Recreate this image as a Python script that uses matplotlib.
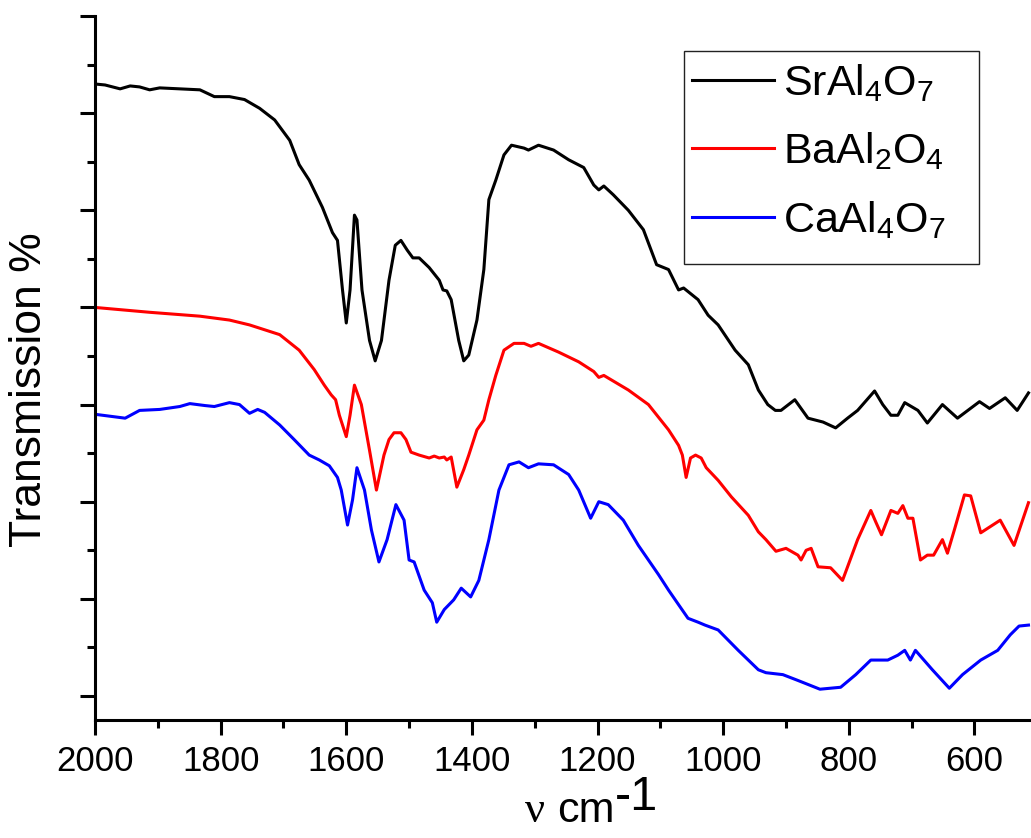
import matplotlib
matplotlib.use("Agg")
import matplotlib.pyplot as plt
from matplotlib.patches import Rectangle
from matplotlib.ticker import MultipleLocator, NullFormatter

plt.rcParams['font.family'] = ['Liberation Sans', 'DejaVu Sans']
plt.rcParams['mathtext.fontset'] = 'custom'
plt.rcParams['mathtext.rm'] = 'Liberation Sans'

# ---- data (wavenumber cm^-1, transmission arbitrary %) ----
sr_wn = [2000, 1984, 1960, 1944, 1929, 1913, 1897, 1865, 1833, 1810, 1786, 1762, 1738, 1714,
         1690, 1675, 1659, 1638, 1622, 1614, 1606, 1600, 1594, 1587, 1583, 1575, 1563, 1554,
         1544, 1532, 1522, 1513, 1503, 1494, 1484, 1468, 1452, 1446, 1440, 1433, 1421, 1413,
         1405, 1392, 1381, 1373, 1362, 1349, 1337, 1317, 1310, 1294, 1270, 1246, 1222, 1206,
         1198, 1190, 1175, 1151, 1127, 1106, 1087, 1071, 1063, 1040, 1024, 1008, 981, 960,
         944, 929, 917, 908, 886, 865, 841, 821, 802, 786, 759, 746, 733, 722, 711, 690, 675,
         651, 627, 592, 576, 551, 532, 514]
sr_t = [63.0, 62.9, 62.5, 62.8, 62.7, 62.4, 62.6, 62.5, 62.4, 61.7, 61.7, 61.4, 60.5, 59.3,
        57.2, 54.7, 53.1, 50.3, 47.7, 46.9, 41.8, 38.4, 41.8, 49.5, 49.0, 41.8, 36.6, 34.5,
        36.6, 42.8, 46.4, 46.9, 45.9, 45.1, 45.1, 44.1, 42.8, 41.8, 41.7, 40.8, 36.6, 34.5,
        35.1, 38.7, 43.9, 51.1, 53.1, 55.7, 56.7, 56.4, 56.2, 56.7, 56.2, 55.2, 54.4, 52.6,
        52.1, 52.5, 51.6, 50.0, 48.0, 44.4, 43.9, 41.8, 42.0, 40.8, 39.2, 38.2, 35.6, 34.1,
        31.5, 30.0, 29.4, 29.4, 30.5, 28.6, 28.2, 27.6, 28.6, 29.4, 31.4, 30.0, 28.9, 28.9,
        30.2, 29.4, 28.1, 30.0, 28.6, 30.3, 29.6, 30.7, 29.4, 31.2]

ba_wn = [2000, 1913, 1833, 1786, 1754, 1706, 1675, 1651, 1635, 1624, 1617, 1611, 1600, 1594,
         1587, 1576, 1563, 1552, 1540, 1532, 1524, 1513, 1505, 1497, 1484, 1468, 1460, 1452,
         1444, 1440, 1433, 1424, 1413, 1405, 1392, 1381, 1373, 1362, 1349, 1333, 1317, 1306,
         1294, 1262, 1230, 1206, 1198, 1190, 1151, 1119, 1087, 1071, 1065, 1059, 1052, 1044,
         1035, 1027, 1008, 987, 960, 944, 932, 916, 900, 881, 876, 868, 860, 849, 829, 810,
         786, 765, 757, 748, 733, 722, 714, 706, 698, 686, 675, 665, 651, 643, 632, 616, 606,
         590, 559, 537, 514]
ba_t = [40.0, 39.5, 39.1, 38.7, 38.2, 37.2, 35.6, 33.6, 32.0, 31.0, 30.5, 28.9, 26.7, 28.9,
        32.0, 30.0, 25.3, 21.2, 24.8, 26.4, 27.1, 27.1, 26.4, 25.1, 24.8, 24.5, 24.7, 24.5,
        24.6, 24.3, 24.6, 21.5, 23.3, 24.8, 27.4, 28.4, 30.5, 33.0, 35.6, 36.3, 36.3, 36.0,
        36.3, 35.4, 34.4, 33.4, 32.8, 33.0, 31.5, 30.0, 27.4, 25.8, 24.8, 22.5, 24.5, 24.8,
        24.5, 23.5, 22.2, 20.5, 18.6, 16.9, 16.1, 14.9, 15.2, 14.5, 14.0, 15.0, 15.2, 13.3,
        13.2, 11.9, 16.1, 19.1, 17.9, 16.6, 19.1, 18.8, 19.6, 18.3, 18.3, 14.0, 14.5, 14.5,
        16.1, 14.7, 17.1, 20.7, 20.6, 16.8, 18.1, 15.5, 19.9]

ca_wn = [2000, 1976, 1952, 1929, 1897, 1865, 1849, 1825, 1810, 1786, 1770, 1754, 1741, 1730,
         1706, 1683, 1659, 1643, 1627, 1614, 1608, 1598, 1590, 1583, 1571, 1560, 1548, 1535,
         1521, 1508, 1500, 1492, 1476, 1463, 1456, 1444, 1429, 1417, 1402, 1389, 1373, 1357,
         1341, 1325, 1310, 1294, 1270, 1246, 1230, 1211, 1198, 1183, 1159, 1135, 1103, 1087,
         1071, 1056, 1040, 1029, 1008, 976, 944, 932, 905, 881, 846, 813, 789, 765, 738, 722,
         711, 702, 694, 667, 640, 619, 590, 563, 543, 529, 514]
ca_t = [29.0, 28.8, 28.6, 29.4, 29.5, 29.8, 30.1, 29.9, 29.8, 30.2, 30.0, 29.1, 29.5, 29.2,
        27.9, 26.4, 24.8, 24.3, 23.7, 22.5, 21.2, 17.6, 20.2, 23.5, 21.2, 17.1, 13.8, 16.1,
        19.7, 18.1, 14.0, 13.8, 10.9, 9.6, 7.6, 8.9, 9.9, 11.1, 10.2, 11.9, 16.1, 21.2,
        23.8, 24.1, 23.5, 23.9, 23.8, 22.8, 21.2, 18.3, 20.0, 19.7, 18.1, 15.5, 12.5, 10.9,
        9.4, 8.0, 7.6, 7.3, 6.8, 4.7, 2.7, 2.4, 2.2, 1.6, 0.7, 0.9, 2.2, 3.7, 3.7, 4.2,
        4.7, 3.7, 4.7, 2.7, 0.8, 2.2, 3.7, 4.7, 6.3, 7.2, 7.3]

series_labels = [r'$\mathregular{SrAl_4O_7}$', r'$\mathregular{BaAl_2O_4}$', r'$\mathregular{CaAl_4O_7}$']
series_colors = ['black', '#ff0000', '#0000ff']

W, H = 1031, 838
fig = plt.figure(figsize=(W / 100, H / 100), dpi=100)
ax = fig.add_axes([95 / W, 1 - 720 / H, (W - 95) / W, (720 - 16) / H])

for wn, t, lab, col in zip([sr_wn, ba_wn, ca_wn], [sr_t, ba_t, ca_t], series_labels, series_colors):
    ax.plot(wn, t, color=col, lw=2.2, label=lab, solid_joinstyle='round')

ax.set_xlim(2000, 510)
ax.set_ylim(-2.47, 70)
ax.xaxis.set_major_locator(MultipleLocator(200))
ax.xaxis.set_minor_locator(MultipleLocator(100))
ax.yaxis.set_major_locator(MultipleLocator(10))
ax.yaxis.set_minor_locator(MultipleLocator(5))
ax.yaxis.set_major_formatter(NullFormatter())

for s in ['top', 'right']:
    ax.spines[s].set_visible(False)
for s in ['left', 'bottom']:
    ax.spines[s].set_linewidth(2.2)

ax.tick_params(which='major', direction='out', length=11, width=2.2, labelsize=25, pad=7)
ax.tick_params(which='minor', direction='out', length=6, width=2.2)

# legend entries (frame drawn separately as a plain box)
leg = ax.legend(loc='upper left', bbox_to_anchor=(681 / W, 1 - 51 / H), bbox_transform=fig.transFigure,
                borderaxespad=0, frameon=False, prop={'size': 31},
                handlelength=1.9, handletextpad=0.22, labelspacing=0.62, borderpad=0.25)
for l in leg.get_lines():
    l.set_linewidth(2.2)
fig.patches.append(Rectangle((684 / W, 1 - 264 / H), (979 - 684) / W, (264 - 51) / H,
                             transform=fig.transFigure, fill=False, edgecolor='#222222',
                             linewidth=1.0, zorder=5))

fig.text(30 / W, 1 - 390 / H, 'Transmission %', rotation=90, ha='center', va='center', fontsize=32)
fig.text(525 / W, 1 - 822 / H, 'ν', ha='left', va='baseline', fontsize=32, family=['Liberation Serif', 'DejaVu Serif'])
fig.text(557 / W, 1 - 822 / H, 'cm', ha='left', va='baseline', fontsize=31)
fig.text(615 / W, 1 - 810 / H, '-1', ha='left', va='baseline', fontsize=35)

fig.savefig('out.png', dpi=100)
